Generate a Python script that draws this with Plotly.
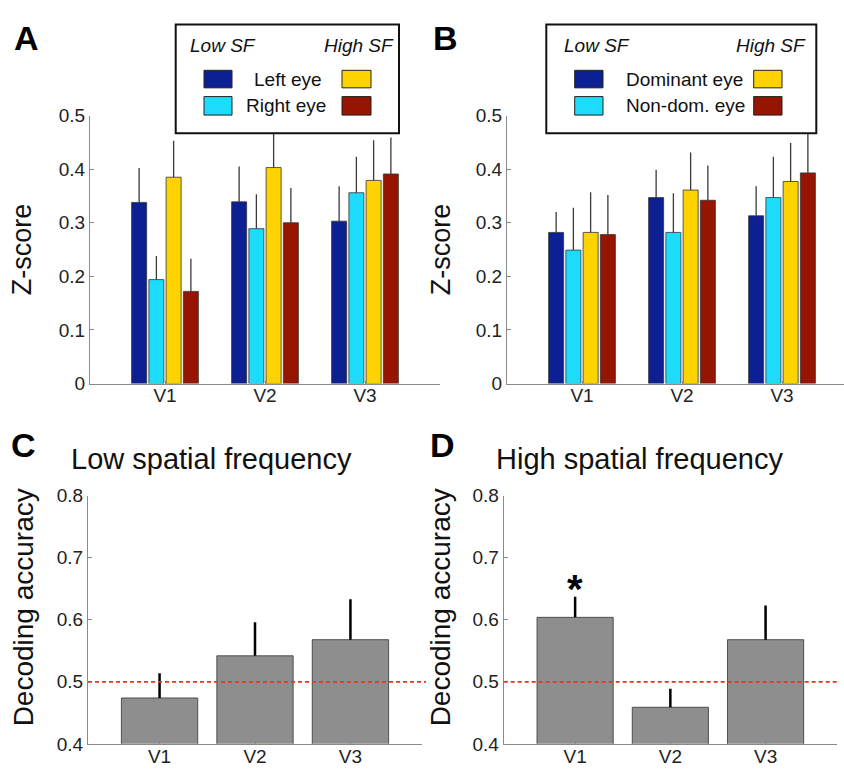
import plotly.graph_objects as go

W, H = 844, 775

regions = ["V1", "V2", "V3"]

# Panel A: Z-score (left / right eye, low / high SF)
a_left_low = [0.338, 0.339, 0.303]
a_left_low_err = [0.064, 0.066, 0.065]
a_right_low = [0.194, 0.289, 0.356]
a_right_low_err = [0.044, 0.064, 0.067]
a_left_high = [0.385, 0.403, 0.379]
a_left_high_err = [0.068, 0.075, 0.075]
a_right_high = [0.172, 0.300, 0.391]
a_right_high_err = [0.061, 0.065, 0.068]

# Panel B: Z-score (dominant / non-dominant eye, low / high SF)
b_dom_low = [0.282, 0.347, 0.313]
b_dom_low_err = [0.038, 0.052, 0.055]
b_nondom_low = [0.249, 0.282, 0.347]
b_nondom_low_err = [0.079, 0.073, 0.076]
b_dom_high = [0.282, 0.361, 0.377]
b_dom_high_err = [0.075, 0.070, 0.072]
b_nondom_high = [0.278, 0.342, 0.393]
b_nondom_high_err = [0.074, 0.065, 0.085]

# Panel C / D: decoding accuracy
c_low_acc = [0.474, 0.542, 0.568]
c_low_err = [0.040, 0.054, 0.065]
d_high_acc = [0.604, 0.459, 0.568]
d_high_err = [0.033, 0.030, 0.055]
chance_level = 0.5

z_ticks = [0, 0.1, 0.2, 0.3, 0.4, 0.5]
z_ticktext = ["0", "0.1", "0.2", "0.3", "0.4", "0.5"]
acc_ticks = [0.4, 0.5, 0.6, 0.7, 0.8]
acc_ticktext = ["0.4", "0.5", "0.6", "0.7", "0.8"]

C_DB = "#0c2093"
C_CY = "#1ddcfb"
C_YE = "#ffd300"
C_RE = "#961500"
C_GR = "#8e8e8e"

FONT = "Liberation Sans, Arial, Helvetica, sans-serif"


def px(x):
    return x / W


def py(y):
    return 1 - y / H


fig = go.Figure()


def add_bar(vals, errs, color, xa, ya, thick=1.3, ecolor="#3a3a3a", width=None, line="#333"):
    kw = {}
    if width is not None:
        kw["width"] = width
    fig.add_trace(go.Bar(
        x=regions, y=vals, xaxis=xa, yaxis=ya,
        marker=dict(color=color, line=dict(color=line, width=0.8)),
        error_y=dict(type="data", symmetric=False, array=errs,
                     arrayminus=[0] * len(errs), width=0,
                     thickness=thick, color=ecolor),
        showlegend=False, **kw))


add_bar(a_left_low, a_left_low_err, C_DB, "x", "y")
add_bar(a_right_low, a_right_low_err, C_CY, "x", "y")
add_bar(a_left_high, a_left_high_err, C_YE, "x", "y")
add_bar(a_right_high, a_right_high_err, C_RE, "x", "y")

add_bar(b_dom_low, b_dom_low_err, C_DB, "x2", "y2")
add_bar(b_nondom_low, b_nondom_low_err, C_CY, "x2", "y2")
add_bar(b_dom_high, b_dom_high_err, C_YE, "x2", "y2")
add_bar(b_nondom_high, b_nondom_high_err, C_RE, "x2", "y2")

add_bar(c_low_acc, c_low_err, C_GR, "x3", "y3", thick=2.5, ecolor="#000", width=0.8)
add_bar(d_high_acc, d_high_err, C_GR, "x4", "y4", thick=2.5, ecolor="#000", width=0.8)

axis_common = dict(showline=True, linecolor="#8a8a8a", linewidth=1, showgrid=False,
                   zeroline=False, tickfont=dict(family=FONT, size=19, color="#222"))

xcommon = dict(axis_common, ticks="inside", ticklen=3, tickcolor="#8a8a8a",
               ticklabelstandoff=-5)
ycommon = dict(axis_common, ticks="inside", ticklen=4, tickcolor="#8a8a8a")

yA = [py(384), py(108.5)]
yC = [py(754.3), py(499.3)]

fig.update_layout(
    width=W, height=H, margin=dict(l=0, r=0, t=0, b=0),
    paper_bgcolor="white", plot_bgcolor="white",
    barmode="group", bargap=0.31, bargroupgap=0.13,
    xaxis=dict(xcommon, domain=[px(90), px(440)], range=[-0.75, 2.75], anchor="y"),
    yaxis=dict(ycommon, domain=yA, range=[0, 0.5], tickvals=z_ticks, ticktext=z_ticktext, anchor="x"),
    xaxis2=dict(xcommon, domain=[px(507), 1], range=[-0.75, 2.62], anchor="y2"),
    yaxis2=dict(ycommon, domain=yA, range=[0, 0.5], tickvals=z_ticks, ticktext=z_ticktext, anchor="x2"),
    xaxis3=dict(xcommon, domain=[px(88), px(422)], range=[-0.75, 2.75], anchor="y3"),
    yaxis3=dict(ycommon, domain=yC, range=[0.4, 0.8], tickvals=acc_ticks, ticktext=acc_ticktext, anchor="x3"),
    xaxis4=dict(xcommon, domain=[px(503.7), px(837)], range=[-0.75, 2.75], anchor="y4"),
    yaxis4=dict(ycommon, domain=yC, range=[0.4, 0.8], tickvals=acc_ticks, ticktext=acc_ticktext, anchor="x4"),
)

shapes = []
annotations = []


def text(x, y, s, size, bold=False, italic=False, xanchor="center", yanchor="middle",
         textangle=0, xref="paper", yref="paper", color="#111"):
    t = s
    if bold:
        t = "<b>" + t + "</b>"
    if italic:
        t = "<i>" + t + "</i>"
    annotations.append(dict(
        x=px(x) if xref == "paper" else x, y=py(y) if yref == "paper" else y,
        xref=xref, yref=yref, text=t, showarrow=False,
        xanchor=xanchor, yanchor=yanchor, textangle=textangle,
        font=dict(family=FONT, size=size, color=color)))


def rect(x0, y0, x1, y1, fill, line="#222", lw=1):
    shapes.append(dict(type="rect", xref="paper", yref="paper",
                       x0=px(x0), x1=px(x1), y0=py(y1), y1=py(y0),
                       fillcolor=fill, line=dict(color=line, width=lw), layer="above"))


# chance lines
shapes.append(dict(type="line", xref="paper", yref="y3", x0=px(88), x1=px(426),
                   y0=chance_level, y1=chance_level,
                   line=dict(color="#e8351f", width=1.6, dash="4px,3px"), layer="above"))
shapes.append(dict(type="line", xref="paper", yref="y4", x0=px(503.7), x1=px(839),
                   y0=chance_level, y1=chance_level,
                   line=dict(color="#e8351f", width=1.6, dash="4px,3px"), layer="above"))

# legend A
rect(175.7, 15, 399, 126.7, "white", line="#111", lw=2)
rect(204, 62, 232, 80, C_DB)
rect(342, 62, 371, 80, C_YE)
rect(204, 89, 232, 108, C_CY)
rect(342, 89, 371, 108, C_RE)
text(222.5, 37, "Low SF", 19, italic=True)
text(359, 37, "High SF", 19, italic=True)
text(287.5, 71, "Left eye", 19)
text(285.5, 98, "Right eye", 19)

# legend B
rect(546.3, 15, 816.3, 126.7, "white", line="#111", lw=2)
rect(574.7, 62, 603, 80, C_DB)
rect(753.7, 62, 782, 80, C_YE)
rect(574.7, 89, 603, 108, C_CY)
rect(753.7, 89, 782, 108, C_RE)
text(597, 37, "Low SF", 19, italic=True)
text(771, 37, "High SF", 19, italic=True)
text(623.5, 71, "Dominant eye", 19, xanchor="left")
text(623.5, 98, "Non-dom. eye", 19, xanchor="left")

# panel letters
text(26, 29, "A", 34, bold=True, color="#000")
text(445, 29, "B", 34, bold=True, color="#000")
text(23, 447, "C", 34, bold=True, color="#000")
text(442, 447, "D", 34, bold=True, color="#000")

# axis titles
text(22, 246, "Z-score", 27, textangle=-90)
text(441, 246, "Z-score", 27, textangle=-90)
text(23, 614, "Decoding accuracy", 28, textangle=-90)
text(440, 614, "Decoding accuracy", 28, textangle=-90)

# panel titles
text(211.7, 461, "Low spatial frequency", 29)
text(639.5, 461, "High spatial frequency", 29)

# significance star
annotations.append(dict(x="V1", y=d_high_acc[0] + d_high_err[0] + 0.012, xref="x4", yref="y4",
                        text="<b>*</b>", showarrow=False, xanchor="center", yanchor="middle",
                        font=dict(family=FONT, size=40, color="#000")))

fig.update_layout(shapes=shapes, annotations=annotations)

fig.write_html("out.html", config={"displayModeBar": False},
               post_script="document.body.style.margin='0px';")
